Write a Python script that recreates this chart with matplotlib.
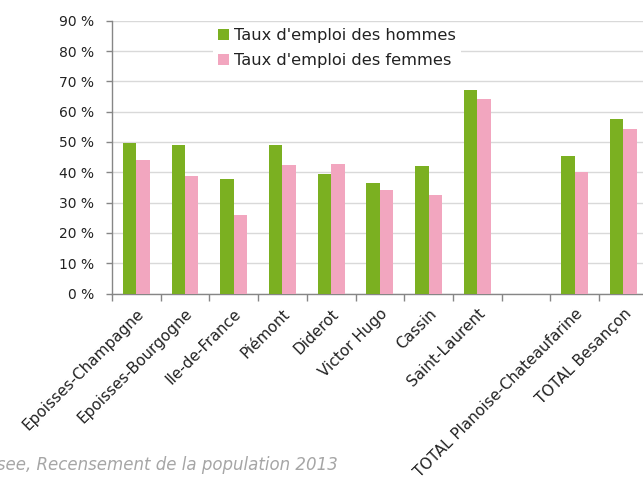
import matplotlib.pyplot as plt
import numpy as np

# Data (employment rate, %)
categories = ["Epoisses-Champagne", "Epoisses-Bourgogne", "Ile-de-France", "Piémont",
              "Diderot", "Victor Hugo", "Cassin", "Saint-Laurent", "",
              "TOTAL Planoise-Chateaufarine", "TOTAL Besançon"]
hommes = [49.6, 49.1, 37.7, 49.1, 39.4, 36.4, 41.9, 67.0, np.nan, 45.3, 57.6]
femmes = [44.1, 38.9, 25.8, 42.3, 42.8, 34.3, 32.6, 64.1, np.nan, 40.1, 54.2]
yticks = [0, 10, 20, 30, 40, 50, 60, 70, 80, 90]

GREEN = '#7BB021'
PINK = '#F2A6BF'
SOURCE = "Source : Insee, Recensement de la population 2013"

W, H = 643, 491
fig = plt.figure(figsize=(W / 100, H / 100), dpi=100)
plt.rcParams['font.family'] = ['DejaVu Sans']

# axes extends a bit past the right edge, like the cropped original
ax = fig.add_axes([112 / W, (H - 293.5) / H, 535.7 / W, 272.8 / H])

x = np.arange(len(categories))
bw = 0.275
ax.bar(x - bw / 2, hommes, bw, color=GREEN, label="Taux d'emploi des hommes", zorder=3)
ax.bar(x + bw / 2, femmes, bw, color=PINK, label="Taux d'emploi des femmes", zorder=3)

ax.set_xlim(-0.5, len(categories) - 0.5)
ax.set_ylim(0, 90)
ax.set_yticks(yticks)
ax.set_yticklabels([f"{v} %" for v in yticks], fontsize=10, color='#222222')
ax.grid(axis='y', color='#D9D9D9', linewidth=1, zorder=0)

# labels at slot centres, tick marks at slot boundaries
ax.set_xticks(x)
ax.set_xticklabels(categories, rotation=45, ha='right', rotation_mode='anchor',
                   fontsize=11, color='#222222')
ax.tick_params(axis='x', which='major', length=0, pad=9)
ax.set_xticks(np.arange(len(categories) + 1) - 0.5, minor=True)
ax.tick_params(axis='x', which='minor', length=5, color='#868686', width=1)
ax.tick_params(axis='y', length=4, color='#868686', width=1, pad=9)

for s in ['top', 'right']:
    ax.spines[s].set_visible(False)
for s in ['left', 'bottom']:
    ax.spines[s].set_color('#868686')
    ax.spines[s].set_linewidth(1)

leg = ax.legend(loc='upper left', bbox_to_anchor=(0.189, 0.99), fontsize=11.7,
                frameon=True, facecolor='white', edgecolor='white', framealpha=1,
                handlelength=0.7, handleheight=0.7, handletextpad=0.3,
                labelspacing=0.6, borderpad=0.3, borderaxespad=0)
leg.get_frame().set_linewidth(0)
for t in leg.get_texts():
    t.set_color('#222222')

fig.text(338 / W, 1 - 465 / H, SOURCE, ha='right', va='center',
         style='italic', color='#A6A6A6', fontsize=12)

fig.savefig('out.png', dpi=100)
